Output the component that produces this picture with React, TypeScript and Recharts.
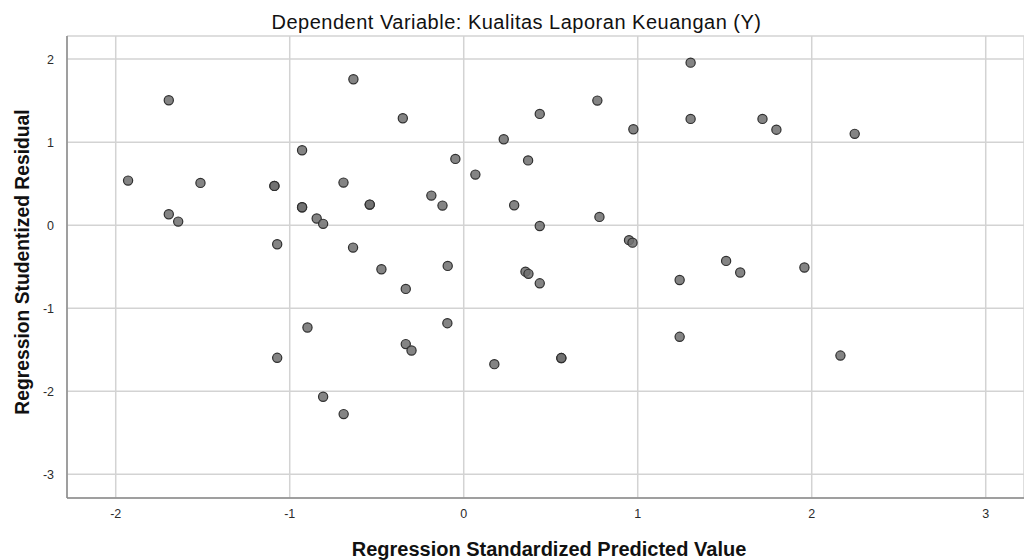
import {
  ScatterChart,
  Scatter,
  XAxis,
  YAxis,
  CartesianGrid,
} from "recharts";

const predicted = [
  -1.929, -1.695, -1.695, -1.641, -1.513, -1.088, -1.088, -1.072, -1.072, -0.929,
  -0.929, -0.929, -0.898, -0.845, -0.808, -0.808, -0.691, -0.69, -0.634, -0.636,
  -0.54, -0.54, -0.473, -0.35, -0.333, -0.333, -0.3, -0.186, -0.122, -0.092,
  -0.094, -0.048, 0.067, 0.176, 0.23, 0.29, 0.355, 0.372, 0.37, 0.437,
  0.437, 0.437, 0.561, 0.561, 0.768, 0.78, 0.975, 0.95, 0.97, 1.241,
  1.241, 1.304, 1.304, 1.508, 1.589, 1.717, 1.797, 1.958, 2.165, 2.247,
];

const residual = [
  0.537, 1.504, 0.132, 0.043, 0.509, 0.473, 0.473, -0.229, -1.597, 0.902,
  0.216, 0.216, -1.232, 0.08, 0.016, -2.066, 0.513, -2.275, 1.757, -0.27,
  0.248, 0.248, -0.53, 1.288, -0.767, -1.432, -1.509, 0.356, 0.236, -0.49,
  -1.18, 0.798, 0.609, -1.673, 1.035, 0.24, -0.56, -0.586, 0.78, 1.34,
  -0.01, -0.7, -1.6, -1.6, 1.5, 0.1, 1.155, -0.18, -0.21, -0.66,
  -1.344, 1.957, 1.28, -0.43, -0.57, 1.28, 1.15, -0.51, -1.57, 1.1,
];

const xTicks = [-2, -1, 0, 1, 2, 3];
const yTicks = [-3, -2, -1, 0, 1, 2];

const points = predicted.map((x, i) => ({ x, y: residual[i] }));

// drop the default body margin so the chart sits at the page origin
if (typeof document !== "undefined") {
  document.body.style.margin = "0";
  document.documentElement.style.overflow = "hidden";
}

const font = "'Liberation Sans', Arial, sans-serif";
const tickStyle = { fill: "#2b2b2b", stroke: "none", fontSize: 12.5, fontFamily: font };

const dot = (props: any) => (
  <circle
    cx={props.cx}
    cy={props.cy}
    r={4.6}
    fill="#6e6e6e"
    fillOpacity={0.85}
    stroke="#2f2f2f"
    strokeWidth={1.2}
  />
);

export default function App() {
  return (
    <div
      style={{
        position: "relative",
        width: 1024,
        height: 560,
        background: "#fff",
        fontFamily: font,
        overflow: "hidden",
      }}
    >
      <div
        style={{
          position: "absolute",
          top: 12,
          left: 0,
          width: 1033,
          textAlign: "center",
          fontSize: 20,
          letterSpacing: 0.5,
          lineHeight: 1,
          color: "#111",
        }}
      >
        Dependent Variable: Kualitas Laporan Keuangan (Y)
      </div>

      <ScatterChart
        width={1024}
        height={560}
        margin={{ top: 36, right: 0, bottom: 0, left: 7 }}
      >
        <CartesianGrid stroke="#d3d3d3" strokeWidth={1.5} />
        <XAxis
          type="number"
          dataKey="x"
          domain={[-2.28, 3.22]}
          ticks={xTicks}
          allowDataOverflow
          height={62}
          axisLine={{ stroke: "#8a8a8a", strokeWidth: 1.5 }}
          tickLine={false}
          tickMargin={5}
          tick={tickStyle}
        />
        <YAxis
          type="number"
          dataKey="y"
          domain={[-3.285, 2.278]}
          ticks={yTicks}
          allowDataOverflow
          width={60}
          axisLine={{ stroke: "#8a8a8a", strokeWidth: 1.5 }}
          tickLine={false}
          tickMargin={7}
          tick={tickStyle}
        />
        <Scatter data={points} shape={dot} isAnimationActive={false} />
      </ScatterChart>

      <div
        style={{
          position: "absolute",
          top: 539,
          left: 0,
          width: 1098,
          textAlign: "center",
          fontSize: 20,
          lineHeight: 1,
          fontWeight: "bold",
          color: "#111",
        }}
      >
        Regression Standardized Predicted Value
      </div>
      <div
        style={{
          position: "absolute",
          left: 23,
          top: 262,
          transform: "translate(-50%, -50%) rotate(-90deg)",
          whiteSpace: "nowrap",
          fontSize: 19.3,
          lineHeight: 1,
          fontWeight: "bold",
          color: "#111",
        }}
      >
        Regression Studentized Residual
      </div>
    </div>
  );
}
